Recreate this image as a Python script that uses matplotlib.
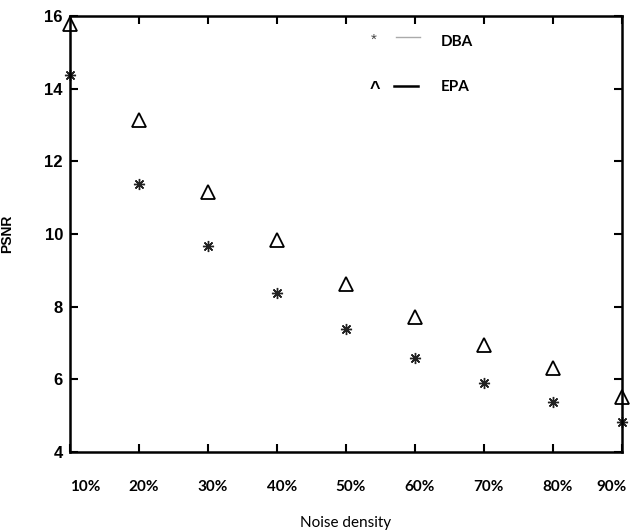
import matplotlib.pyplot as plt
import matplotlib.transforms as mtransforms
from matplotlib.lines import Line2D

noise = ["10%", "20%", "30%", "40%", "50%", "60%", "70%", "80%", "90%"]
dba = [14.38, 11.38, 9.67, 8.38, 7.38, 6.59, 5.90, 5.38, 4.83]
epa = [15.78, 13.14, 11.16, 9.83, 8.62, 7.71, 6.94, 6.31, 5.51]
yticks = [4, 6, 8, 10, 12, 14, 16]

plt.rcParams['font.family'] = ['Lato', 'DejaVu Sans']

fig = plt.figure(figsize=(6.3, 5.31), dpi=100)
ax = fig.add_axes([0.111, 0.149, 0.876, 0.821])

x = list(range(1, len(noise) + 1))

# data points
ax.plot(x, dba, linestyle='none', marker=(8, 2, 0), markersize=8,
        color='#222222', markeredgewidth=1.0, clip_on=False)
ax.plot(x, epa, linestyle='none', marker='^', markersize=10,
        markerfacecolor='white', markeredgecolor='black',
        markeredgewidth=1.3, clip_on=False)

ax.set_xlim(1, 9)
ax.set_ylim(4, 16)
ax.set_xticks(x)
ax.set_xticklabels(noise, fontweight='bold', fontsize=11)
ax.set_yticks(yticks)
ax.set_yticklabels([str(v) for v in yticks], fontweight='bold', fontsize=12,
                   family=['Liberation Sans Narrow', 'Liberation Sans'])
ax.tick_params(axis='both', direction='in', length=6, width=1.5,
               top=True, right=True)
ax.tick_params(axis='x', pad=20)
ax.tick_params(axis='y', pad=5)
for s in ax.spines.values():
    s.set_linewidth(1.8)

# shift the x labels a little to the right, ends kept inside the figure
shift = mtransforms.ScaledTranslation(5 / 100, 0, fig.dpi_scale_trans)
labels = ax.get_xticklabels()
for lab in labels[1:]:
    lab.set_transform(lab.get_transform() + shift)
labels[0].set_ha('left')
labels[-1].set_ha('right')

ax.set_xlabel("Noise density", fontsize=11, labelpad=16)
ax.set_ylabel("PSNR", fontsize=10, fontweight='bold', labelpad=22,
              family=['Liberation Sans', 'DejaVu Sans'])

# legend drawn like the original: small symbol, line, label
sym_font = ['Liberation Sans', 'DejaVu Sans']
ax.text(0.55, 0.945, "*", transform=ax.transAxes, fontsize=11,
        ha='center', va='center', color='#444444', family=sym_font)
ax.add_line(Line2D([0.59, 0.635], [0.952, 0.952], transform=ax.transAxes,
                   color='#aaaaaa', linewidth=1.0))
ax.text(0.672, 0.94, "DBA", transform=ax.transAxes, fontsize=11,
        fontweight='bold', ha='left', va='center')
ax.text(0.553, 0.832, "^", transform=ax.transAxes, fontsize=13,
        fontweight='bold', ha='center', va='center', family=sym_font)
ax.add_line(Line2D([0.587, 0.63], [0.84, 0.84], transform=ax.transAxes,
                   color='black', linewidth=1.8))
ax.text(0.672, 0.837, "EPA", transform=ax.transAxes, fontsize=11,
        fontweight='bold', ha='left', va='center')

fig.savefig("out.png", dpi=100)
